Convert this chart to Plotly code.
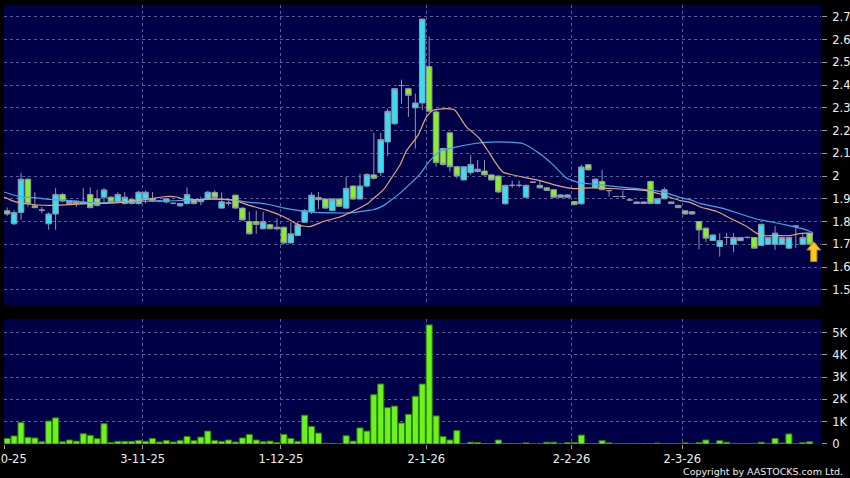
import plotly.graph_objects as go

# ---------------- data ----------------
opens = [1.847, 1.790, 1.840, 1.986, 1.869, 1.850, 1.790, 1.833, 1.919, 1.890,
         1.890, 1.886, 1.919, 1.900, 1.907, 1.907, 1.886, 1.879, 1.897, 1.879,
         1.900, 1.900, 1.890, 1.886, 1.880, 1.869, 1.879, 1.897, 1.887, 1.900,
         1.928, 1.859, 1.881, 1.916, 1.859, 1.800, 1.800, 1.768, 1.786, 1.768,
         1.775, 1.706, 1.739, 1.797, 1.843, 1.906, 1.899, 1.848, 1.899, 1.859,
         1.956, 1.899, 1.956, 2.005, 2.015, 2.150, 2.230, 2.398, 2.384, 2.300,
         2.321, 2.481, 2.282, 2.121, 2.190, 2.041, 1.983, 2.015, 2.030, 2.022,
         2.005, 2.000, 1.878, 1.959, 1.959, 1.907, 1.973, 1.959, 1.948, 1.940,
         1.907, 1.907, 1.888, 1.878, 2.050, 1.950, 1.976, 1.936, 1.910, 1.910,
         1.895, 1.879, 1.886, 1.976, 1.879, 1.900, 1.879, 1.861, 1.847, 1.843,
         1.800, 1.771, 1.716, 1.690, 1.730, 1.700, 1.716, 1.730, 1.730, 1.695,
         1.700, 1.700, 1.700, 1.683, 1.780, 1.700, 1.749]
highs = [1.862, 1.850, 2.014, 1.990, 1.929, 1.864, 1.840, 1.947, 1.925, 1.895,
         1.892, 1.947, 1.950, 1.940, 1.947, 1.912, 1.929, 1.929, 1.900, 1.935,
         1.936, 1.930, 1.895, 1.905, 1.884, 1.880, 1.950, 1.900, 1.910, 1.935,
         1.937, 1.928, 1.891, 1.918, 1.862, 1.843, 1.848, 1.843, 1.790, 1.814,
         1.777, 1.797, 1.800, 1.855, 1.928, 1.930, 1.902, 1.902, 1.902, 1.996,
         1.960, 2.010, 2.012, 2.190, 2.190, 2.296, 2.388, 2.424, 2.388, 2.362,
         2.690, 2.613, 2.290, 2.125, 2.192, 2.045, 2.043, 2.092, 2.070, 2.070,
         2.008, 2.003, 1.962, 1.980, 1.980, 1.962, 1.976, 1.980, 1.950, 1.942,
         1.920, 1.920, 1.890, 2.050, 2.052, 1.990, 2.027, 1.940, 1.912, 1.936,
         1.900, 1.888, 1.888, 1.980, 1.902, 1.950, 1.888, 1.873, 1.849, 1.845,
         1.802, 1.773, 1.743, 1.749, 1.750, 1.750, 1.732, 1.735, 1.732, 1.790,
         1.732, 1.780, 1.732, 1.732, 1.782, 1.750, 1.752]
lows = [1.825, 1.785, 1.807, 1.865, 1.858, 1.836, 1.764, 1.764, 1.885, 1.875,
        1.865, 1.876, 1.858, 1.866, 1.880, 1.882, 1.880, 1.875, 1.875, 1.875,
        1.880, 1.885, 1.885, 1.880, 1.876, 1.865, 1.875, 1.875, 1.872, 1.895,
        1.904, 1.857, 1.870, 1.857, 1.805, 1.743, 1.746, 1.766, 1.766, 1.761,
        1.699, 1.704, 1.736, 1.795, 1.833, 1.855, 1.855, 1.845, 1.864, 1.855,
        1.895, 1.897, 1.950, 1.985, 2.000, 2.088, 2.225, 2.318, 2.260, 2.121,
        2.289, 2.280, 2.041, 2.045, 2.020, 1.990, 1.980, 2.005, 2.015, 2.003,
        1.980, 1.925, 1.875, 1.948, 1.950, 1.905, 1.970, 1.946, 1.935, 1.905,
        1.905, 1.905, 1.870, 1.875, 2.025, 1.948, 1.938, 1.910, 1.908, 1.900,
        1.890, 1.877, 1.877, 1.877, 1.877, 1.898, 1.877, 1.859, 1.831, 1.831,
        1.678, 1.710, 1.714, 1.646, 1.700, 1.665, 1.714, 1.725, 1.681, 1.693,
        1.698, 1.675, 1.698, 1.681, 1.683, 1.698, 1.698]
closes = [1.833, 1.840, 1.986, 1.879, 1.861, 1.850, 1.833, 1.919, 1.890, 1.879,
          1.879, 1.879, 1.861, 1.871, 1.939, 1.886, 1.919, 1.907, 1.879, 1.929,
          1.929, 1.890, 1.890, 1.900, 1.880, 1.879, 1.919, 1.879, 1.896, 1.929,
          1.906, 1.887, 1.881, 1.859, 1.807, 1.746, 1.787, 1.800, 1.768, 1.775,
          1.706, 1.746, 1.786, 1.848, 1.916, 1.896, 1.859, 1.899, 1.867, 1.946,
          1.899, 1.956, 2.007, 1.990, 2.160, 2.285, 2.384, 2.398, 2.355, 2.321,
          2.690, 2.285, 2.059, 2.051, 2.041, 2.000, 2.041, 2.051, 2.020, 2.005,
          1.983, 1.930, 1.959, 1.959, 1.959, 1.959, 1.973, 1.948, 1.937, 1.907,
          1.917, 1.917, 1.875, 2.040, 2.027, 1.986, 1.940, 1.936, 1.910, 1.910,
          1.895, 1.886, 1.879, 1.879, 1.900, 1.940, 1.886, 1.871, 1.833, 1.833,
          1.763, 1.727, 1.741, 1.716, 1.730, 1.730, 1.730, 1.730, 1.683, 1.788,
          1.730, 1.749, 1.730, 1.730, 1.780, 1.730, 1.700]
volume_k = [0.25, 0.36, 0.96, 0.30, 0.27, 0.10, 1.03, 1.17, 0.10, 0.18,
            0.13, 0.46, 0.39, 0.24, 0.91, 0.07, 0.12, 0.12, 0.12, 0.16,
            0.12, 0.25, 0.09, 0.16, 0.09, 0.16, 0.34, 0.15, 0.31, 0.58,
            0.16, 0.12, 0.18, 0.09, 0.27, 0.43, 0.18, 0.10, 0.13, 0.07,
            0.43, 0.25, 0.12, 1.29, 0.79, 0.49, 0.03, 0.03, 0.01, 0.37,
            0.13, 0.72, 0.58, 2.21, 2.69, 1.63, 1.70, 0.94, 1.33, 2.14,
            2.69, 5.34, 1.26, 0.33, 0.18, 0.60, 0.02, 0.08, 0.07, 0.02,
            0.02, 0.18, 0.02, 0.02, 0.02, 0.05, 0.01, 0.01, 0.08, 0.08,
            0.01, 0.06, 0.06, 0.40, 0.02, 0.02, 0.15, 0.05, 0.01, 0.01,
            0.01, 0.01, 0.02, 0.01, 0.04, 0.01, 0.01, 0.01, 0.05, 0.01,
            0.06, 0.18, 0.01, 0.15, 0.08, 0.01, 0.01, 0.01, 0.01, 0.08,
            0.01, 0.25, 0.04, 0.45, 0.01, 0.06, 0.10]

# moving-average lines (bar position, price)
ma_short_pos = [-0.46, 0.9, 3.3, 6.2, 8.6, 11.5, 14.9, 18.2, 20.6, 23.0, 24.5, 25.5,
                27.9, 29.3, 32.7, 35.1, 37.5, 39.9, 41.4, 42.3, 43.8, 45.7, 48.1,
                49.6, 52.0, 52.9, 54.4, 55.3, 56.8, 57.7, 59.4, 60.6, 61.6, 63.5,
                64.7, 66.4, 67.4, 68.3, 69.3, 70.8, 71.7, 74.6, 77.0, 79.4, 81.8,
                84.2, 86.7, 89.1, 92.4, 94.4, 97.3, 98.7, 100.2, 102.6, 105.0,
                106.9, 108.3, 109.3, 111.2, 113.2, 114.1, 115.6, 116.5]
ma_short_val = [1.908, 1.890, 1.876, 1.871, 1.874, 1.879, 1.881, 1.890, 1.900, 1.910,
                1.908, 1.898, 1.896, 1.900, 1.894, 1.870, 1.850, 1.822, 1.797, 1.783,
                1.778, 1.800, 1.820, 1.840, 1.877, 1.900, 1.940, 1.980, 2.050, 2.110,
                2.180, 2.260, 2.290, 2.296, 2.290, 2.215, 2.190, 2.164, 2.120, 2.050,
                2.017, 1.995, 1.980, 1.959, 1.945, 1.948, 1.946, 1.942, 1.936, 1.921,
                1.892, 1.884, 1.864, 1.844, 1.807, 1.778, 1.749, 1.738, 1.738, 1.738,
                1.745, 1.749, 1.742]
ma_long_pos = [-0.46, 1.85, 3.8, 6.7, 8.6, 11.5, 13.4, 15.8, 18.2, 20.6, 23.0, 25.5,
               27.9, 29.3, 32.7, 35.1, 37.5, 39.9, 42.3, 44.7, 47.1, 49.6, 52.0,
               52.9, 54.4, 55.3, 56.8, 57.7, 59.7, 60.9, 62.6, 65.0, 67.4, 69.8,
               72.2, 74.6, 77.0, 79.0, 80.9, 82.8, 84.7, 86.7, 89.1, 92.4, 94.9,
               97.3, 98.7, 100.2, 103.5, 105.9, 108.3, 110.7, 113.2, 115.1, 116.5]
ma_long_val = [1.930, 1.909, 1.905, 1.896, 1.893, 1.884, 1.882, 1.885, 1.888, 1.890,
               1.890, 1.893, 1.895, 1.898, 1.894, 1.884, 1.877, 1.860, 1.848, 1.840,
               1.838, 1.838, 1.848, 1.852, 1.870, 1.890, 1.925, 1.950, 2.010, 2.060,
               2.110, 2.128, 2.142, 2.149, 2.149, 2.142, 2.098, 2.047, 1.990, 1.970,
               1.965, 1.958, 1.950, 1.940, 1.929, 1.905, 1.896, 1.879, 1.858, 1.834,
               1.811, 1.797, 1.781, 1.768, 1.751]

date_tick_idx = [0, 20, 40, 61, 82, 98]
date_tick_text = ["2-10-25", "3-11-25", "1-12-25", "2-1-26", "2-2-26", "2-3-26"]
price_ticks = [1.5, 1.6, 1.7, 1.8, 1.9, 2.0, 2.1, 2.2, 2.3, 2.4, 2.5, 2.6, 2.7]
price_tick_text = ["1.5", "1.6", "1.7", "1.8", "1.9", "2", "2.1", "2.2", "2.3",
                   "2.4", "2.5", "2.6", "2.7"]
vol_ticks = [0, 1, 2, 3, 4, 5]
vol_tick_text = ["0", "1K", "2K", "3K", "4K", "5K"]

# ---------------- figure ----------------
idx = list(range(len(closes)))
grid_pos = [i - 0.42 for i in date_tick_idx]
x_range = [-0.46, 117.64]

GRID = "#5c5c9c"
FONT = "DejaVu Sans"
TXT = "#eeeeee"
WICK = "#8e98ad"

fig = go.Figure()

fig.add_trace(go.Candlestick(
    x=idx, open=opens, high=highs, low=lows, close=closes,
    xaxis="x", yaxis="y",
    increasing=dict(fillcolor="#36def0", line=dict(color=WICK, width=1)),
    decreasing=dict(fillcolor="#8aee2a", line=dict(color=WICK, width=1)),
    whiskerwidth=0, hoverinfo="skip", showlegend=False,
))
fig.add_trace(go.Scatter(
    x=ma_long_pos, y=ma_long_val, mode="lines", xaxis="x", yaxis="y",
    line=dict(color="#3fa8ea", width=1.2, shape="spline", smoothing=0.5),
    hoverinfo="skip", showlegend=False,
))
fig.add_trace(go.Scatter(
    x=ma_short_pos, y=ma_short_val, mode="lines", xaxis="x", yaxis="y",
    line=dict(color="#e3a47c", width=1.2, shape="spline", smoothing=0.5),
    hoverinfo="skip", showlegend=False,
))
fig.add_trace(go.Bar(
    x=idx, y=volume_k, xaxis="x2", yaxis="y2",
    marker=dict(color="#6cf21f", line=dict(color="#2f8000", width=1)),
    hoverinfo="skip", showlegend=False,
))

# yellow marker arrow under the latest bar
last = len(closes) - 1
ax = last + 0.6
tip, neck, foot = 1.711, 1.675, 1.624
arrow_path = (f"M {ax} {tip} L {ax + 1.0} {neck} L {ax + 0.45} {neck} "
              f"L {ax + 0.45} {foot} L {ax - 0.45} {foot} L {ax - 0.45} {neck} "
              f"L {ax - 1.0} {neck} Z")
fig.add_shape(type="path", path=arrow_path, xref="x", yref="y",
              fillcolor="#f8c91e", line=dict(color="#b8860b", width=1), layer="above")

axis_common = dict(showline=False, zeroline=False, gridcolor=GRID, griddash="3px,3px",
                   gridwidth=1)

fig.update_layout(
    width=850, height=478,
    margin=dict(l=4, r=29, t=5, b=34),
    paper_bgcolor="#000000", plot_bgcolor="#000048",
    font=dict(family=FONT, color=TXT, size=11),
    boxgap=0.2, boxgroupgap=0, bargap=0.12,
    showlegend=False,
    xaxis=dict(domain=[0, 1], anchor="y", range=x_range, tickmode="array",
               tickvals=grid_pos, showticklabels=False, ticks="",
               rangeslider=dict(visible=False), **axis_common),
    yaxis=dict(domain=[0.3166, 1], anchor="x", side="right", range=[1.433, 2.752],
               tickmode="array", tickvals=price_ticks, ticktext=price_tick_text,
               ticks="outside", ticklen=5, tickcolor="#9a9a9a",
               ticklabelstandoff=3, automargin=False,
               tickfont=dict(family=FONT, size=11.5, color=TXT), **axis_common),
    xaxis2=dict(domain=[0, 1], anchor="y2", matches="x", range=x_range,
                tickmode="array", tickvals=grid_pos, ticktext=date_tick_text,
                ticks="outside", ticklen=4, tickcolor="#9a9a9a",
                ticklabeloverflow="allow", automargin=False,
                tickfont=dict(family=FONT, size=11.5, color=TXT), **axis_common),
    yaxis2=dict(domain=[0, 0.2847], anchor="x2", side="right", range=[0, 5.605],
                tickmode="array", tickvals=vol_ticks, ticktext=vol_tick_text,
                ticks="outside", ticklen=5, tickcolor="#9a9a9a",
                ticklabelstandoff=3, automargin=False,
                tickfont=dict(family=FONT, size=11.5, color=TXT), **axis_common),
)

fig.add_annotation(text="Copyright by AASTOCKS.com Ltd.", xref="paper", yref="paper",
                   x=1, y=0, xanchor="right", yanchor="middle", xshift=24, yshift=-27,
                   showarrow=False, font=dict(family=FONT, size=9.5, color=TXT))

fig.write_html(
    "out.html",
    config={"displayModeBar": False},
    post_script="document.body.style.margin='0';document.body.style.padding='0';"
                "document.body.style.background='#000';",
)
